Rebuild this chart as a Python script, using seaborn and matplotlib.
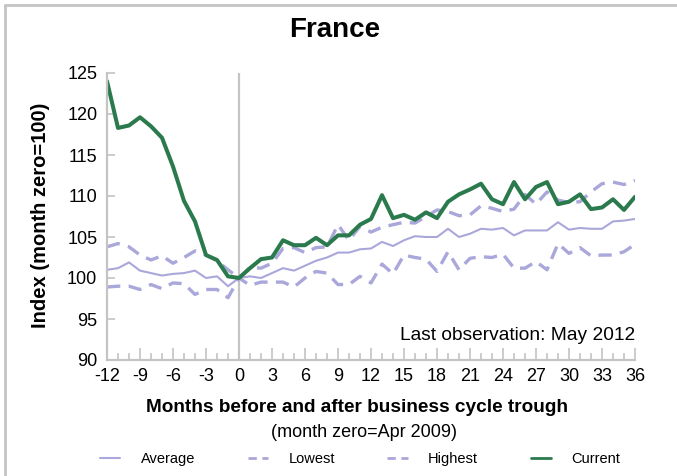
import matplotlib
matplotlib.use("Agg")
import matplotlib.pyplot as plt
from matplotlib.lines import Line2D
import seaborn as sns
import pandas as pd

# months relative to the trough (month zero = Apr 2009)
months = list(range(-12, 37))

current = [124.0, 118.3, 118.6, 119.6, 118.5, 117.1, 113.6, 109.4, 106.9, 102.8, 102.2, 100.2, 100.0,
           101.2, 102.3, 102.5, 104.6, 104.0, 104.0, 104.9, 104.0, 105.2, 105.2, 106.5, 107.2,
           110.1, 107.3, 107.7, 107.1, 108.0, 107.3, 109.3, 110.2, 110.8, 111.5, 109.6, 109.0,
           111.7, 109.6, 111.1, 111.7, 109.0, 109.3, 110.2, 108.4, 108.6, 109.6, 108.3, 109.9]

average = [101.0, 101.2, 101.9, 100.9, 100.6, 100.3, 100.5, 100.6, 100.9, 100.0, 100.2, 99.0, 100.0,
           100.2, 100.0, 100.6, 101.2, 100.9, 101.5, 102.1, 102.5, 103.1, 103.1, 103.5, 103.6,
           104.4, 103.9, 104.6, 105.1, 105.0, 105.0, 106.0, 105.0, 105.4, 106.0, 105.9, 106.1,
           105.2, 105.8, 105.8, 105.8, 106.8, 105.9, 106.1, 106.0, 106.0, 106.9, 107.0, 107.2]

lowest = [98.9, 99.0, 99.0, 98.6, 99.2, 98.7, 99.4, 99.3, 98.0, 98.6, 98.6, 97.6, 100.0,
          99.1, 99.5, 99.5, 99.5, 98.9, 100.0, 100.8, 100.6, 99.2, 99.2, 100.2, 99.4,
          101.7, 100.5, 102.8, 102.5, 102.3, 100.8, 103.2, 101.0, 102.4, 102.6, 102.5, 102.9,
          101.2, 101.2, 102.0, 101.0, 104.2, 103.0, 103.7, 102.7, 102.8, 102.8, 103.2, 104.1]

highest = [103.8, 104.2, 103.8, 102.8, 102.2, 102.7, 101.8, 102.5, 103.3, 102.8, 102.1, 101.0, 100.0,
           101.3, 101.2, 101.8, 103.6, 103.7, 103.1, 103.7, 103.8, 106.5, 104.6, 106.3, 105.6,
           106.2, 106.5, 106.8, 106.7, 107.5, 108.3, 108.1, 107.6, 107.7, 108.8, 108.5, 108.1,
           108.4, 110.2, 109.0, 110.5, 109.5, 109.2, 109.3, 110.5, 111.5, 111.7, 111.4, 111.9]

df = pd.DataFrame({"month": months, "Average": average, "Lowest": lowest,
                   "Highest": highest, "Current": current})

sns.set_style("white")
plt.rcParams['font.family'] = ['Liberation Sans', 'DejaVu Sans']
plt.rcParams['axes.unicode_minus'] = False
plt.rcParams['text.color'] = 'black'
plt.rcParams['axes.labelcolor'] = 'black'
plt.rcParams['xtick.labelcolor'] = 'black'
plt.rcParams['ytick.labelcolor'] = 'black'

purple = "#aaa7da"
green = "#2b7a4d"
grey = "#c4c4c4"

fig = plt.figure(figsize=(6.77, 4.76), dpi=100)
ax = fig.add_axes([107/677, 1 - 360/476, 528/677, 287/476])

# vertical line at month zero
ax.axvline(0, color=grey, lw=1.6, zorder=1)

sns.lineplot(data=df, x="month", y="Average", color=purple, lw=1.5, ax=ax)
sns.lineplot(data=df, x="month", y="Lowest", color=purple, lw=2.4, ax=ax)
sns.lineplot(data=df, x="month", y="Highest", color=purple, lw=2.4, ax=ax)
sns.lineplot(data=df, x="month", y="Current", color=green, lw=2.9, ax=ax)
ax.lines[2].set_dashes((4, 2.5))
ax.lines[3].set_dashes((4, 2.5))

ax.set_xlim(-12, 36)
ax.set_ylim(90, 125)
ax.set_xticks(range(-12, 37, 3))
ax.set_xticks(range(-12, 37), minor=True)
ax.set_yticks(range(90, 126, 5))

for s in ["top", "right"]:
    ax.spines[s].set_visible(False)
for s in ["left", "bottom"]:
    ax.spines[s].set_color(grey)
    ax.spines[s].set_linewidth(1.6)

ax.tick_params(axis="x", which="major", direction="in", length=9, width=1.2,
               color=grey, labelsize=13, pad=6)
ax.tick_params(axis="x", which="minor", direction="in", length=5, width=1.2, color=grey)
ax.tick_params(axis="y", which="major", direction="in", length=6, width=1.2,
               color=grey, labelsize=13, pad=7, left=True)
ax.tick_params(axis="x", bottom=True, which="both")

ax.set_xlabel("")
ax.set_ylabel("Index (month zero=100)", fontsize=14.5, fontweight="bold")
ax.yaxis.set_label_coords(-0.108, 0.505)

ax.text(36, 91.9, "Last observation: May 2012", ha="right", va="bottom", fontsize=13.8)

fig.text(0.495, 0.937, "France", ha="center", va="center", fontsize=20, fontweight="bold")
fig.text(0.527, 0.143, "Months before and after business cycle trough", ha="center",
         va="center", fontsize=13.7, fontweight="bold")
fig.text(0.537, 0.092, "(month zero=Apr 2009)", ha="center", va="center", fontsize=13)

handles = [Line2D([], [], color=purple, lw=1.5),
           Line2D([], [], color=purple, lw=2, dashes=(3, 2)),
           Line2D([], [], color=purple, lw=2, dashes=(3, 2)),
           Line2D([], [], color=green, lw=2)]
fig.legend(handles, ["Average", "Lowest", "Highest", "Current"], loc="center",
           bbox_to_anchor=(0.532, 0.035), ncol=4, frameon=False, fontsize=10.5,
           handlelength=1.4, handletextpad=1.4, columnspacing=3.6)

# thin frame lines along the top and left edges
fig.add_artist(Line2D([5/677, 1], [1 - 4.5/476, 1 - 4.5/476], color=grey, lw=2))
fig.add_artist(Line2D([5/677, 5/677], [0, 1 - 4.5/476], color=grey, lw=2))

fig.savefig("out.png", dpi=100)
